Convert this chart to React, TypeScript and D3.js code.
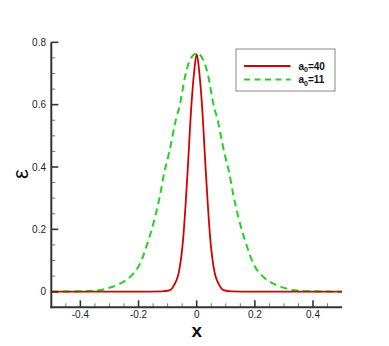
import React from "react";
import * as d3 from "d3";

const W = 389;
const H = 346;

// a0=40 (red, solid): x and epsilon values
const redX = [-0.5, -0.2, -0.12, -0.092, -0.078, -0.06, -0.046, -0.038, -0.031, -0.0186, -0.0093, 0, 0.0093, 0.0186, 0.031, 0.038, 0.046, 0.06, 0.078, 0.092, 0.12, 0.2, 0.5];
const redY = [0, 0, 0.001, 0.005, 0.021, 0.069, 0.176, 0.283, 0.39, 0.593, 0.7, 0.762, 0.7, 0.593, 0.39, 0.283, 0.176, 0.069, 0.021, 0.005, 0.001, 0, 0];

// a0=11 (green, dashed)
const greenX = [-0.5, -0.42, -0.356, -0.31, -0.264, -0.229, -0.195, -0.166, -0.143, -0.126, -0.111, -0.0977, -0.088, -0.0746, -0.057, -0.04, -0.0255, 0, 0.0255, 0.04, 0.057, 0.0746, 0.088, 0.0977, 0.111, 0.126, 0.143, 0.166, 0.195, 0.229, 0.264, 0.31, 0.356, 0.42, 0.5];
const greenY = [0, 0.001, 0.003, 0.01, 0.026, 0.0475, 0.09, 0.165, 0.24, 0.31, 0.385, 0.435, 0.476, 0.54, 0.604, 0.69, 0.738, 0.765, 0.738, 0.69, 0.604, 0.54, 0.476, 0.435, 0.385, 0.31, 0.24, 0.165, 0.09, 0.0475, 0.026, 0.01, 0.003, 0.001, 0];

const xMajor = [-0.4, -0.2, 0, 0.2, 0.4];
const xMajorLabels = ["-0.4", "-0.2", "0", "0.2", "0.4"];
const yMajor = [0, 0.2, 0.4, 0.6, 0.8];
const yMajorLabels = ["0", "0.2", "0.4", "0.6", "0.8"];
const xMinor = d3.range(-9, 10).map((i) => i * 0.05).filter((v) => Math.abs(Math.round(v * 100) % 20) !== 0);
const yMinor = d3.range(1, 16).map((i) => i * 0.05).filter((v) => Math.round(v * 100) % 20 !== 0);

const RED = "#d40000";
const GREEN = "#1fd41f";
const AXIS = "#333333";
const FONT = "'Liberation Sans', Arial, sans-serif";

export default function App() {
  const x = d3.scaleLinear().domain([-0.5, 0.5]).range([51.3, 342.1]);
  const y = d3.scaleLinear().domain([-0.05, 0.8]).range([307.3, 42.3]);

  const mk = d3
    .line<[number, number]>()
    .x((d) => x(d[0]))
    .y((d) => y(d[1]))
    .curve(d3.curveMonotoneX);
  const redPath = mk(redX.map((v, i) => [v, redY[i]] as [number, number]));
  const greenPath = mk(greenX.map((v, i) => [v, greenY[i]] as [number, number]));

  const x0 = x(-0.5);
  const x1 = x(0.5);
  const yb = y(-0.05);
  const yt = y(0.8);

  return (
    <svg width={W} height={H} style={{ position: "absolute", left: 0, top: 0 }}>
      <rect width={W} height={H} fill="#fff" />
      <defs>
        <clipPath id="plot">
          <rect x={x0} y={yt - 5} width={x1 - x0} height={yb - yt + 5} />
        </clipPath>
      </defs>
      <g clipPath="url(#plot)">
        <path d={greenPath || ""} fill="none" stroke={GREEN} strokeWidth={2} strokeDasharray="7,4.5" />
        <path d={redPath || ""} fill="none" stroke={RED} strokeWidth={1.8} />
      </g>

      {/* minor ticks */}
      {xMinor.map((v, i) => (
        <line key={"xm" + i} x1={x(v)} x2={x(v)} y1={yb} y2={yb - 4} stroke="#777" strokeWidth={1} />
      ))}
      {yMinor.map((v, i) => (
        <line key={"ym" + i} x1={x0} x2={x0 + 4} y1={y(v)} y2={y(v)} stroke="#777" strokeWidth={1} />
      ))}
      {/* major ticks */}
      {xMajor.map((v, i) => (
        <line key={"xM" + i} x1={x(v)} x2={x(v)} y1={yb} y2={yb - 7} stroke={AXIS} strokeWidth={1.6} />
      ))}
      {yMajor.map((v, i) => (
        <line key={"yM" + i} x1={x0} x2={x0 + 7} y1={y(v)} y2={y(v)} stroke={AXIS} strokeWidth={1.6} />
      ))}

      {/* axis lines */}
      <line x1={x0} x2={x0} y1={yt} y2={yb + 1} stroke={AXIS} strokeWidth={2} />
      <line x1={x0 - 1} x2={x1} y1={yb} y2={yb} stroke={AXIS} strokeWidth={2} />

      {/* tick labels */}
      {xMajor.map((v, i) => (
        <text key={"xl" + i} x={x(v)} y={317.5} textAnchor="middle" fontSize={10} fontFamily={FONT} fill="#222">
          {xMajorLabels[i]}
        </text>
      ))}
      {yMajor.map((v, i) => (
        <text key={"yl" + i} x={46} y={y(v) + 3.6} textAnchor="end" fontSize={10} fontFamily={FONT} fill="#222">
          {yMajorLabels[i]}
        </text>
      ))}

      {/* axis titles */}
      <text x={x(0)} y={337} textAnchor="middle" fontSize={19} fontWeight="bold" fontFamily={FONT} fill="#111">
        x
      </text>
      <text
        transform={`translate(27.5,174) rotate(-90)`}
        textAnchor="middle"
        fontSize={22}
        fontFamily={FONT}
        fill="#111"
      >
        ε
      </text>

      {/* legend */}
      <rect x={236} y={49} width={99} height={42} fill="#fff" stroke="#888" strokeWidth={1} />
      <line x1={244} x2={290.5} y1={66} y2={66} stroke={RED} strokeWidth={1.8} />
      <line x1={244} x2={290.5} y1={79.5} y2={79.5} stroke={GREEN} strokeWidth={2} strokeDasharray="6,4.5" />
      <text x={298.5} y={69.5} fontSize={10} fontWeight="bold" fontFamily={FONT} fill="#111">
        a<tspan fontSize={7} dy={2.5}>0</tspan>
        <tspan dy={-2.5}>=40</tspan>
      </text>
      <text x={298.5} y={83} fontSize={10} fontWeight="bold" fontFamily={FONT} fill="#111">
        a<tspan fontSize={7} dy={2.5}>0</tspan>
        <tspan dy={-2.5}>=11</tspan>
      </text>
    </svg>
  );
}
